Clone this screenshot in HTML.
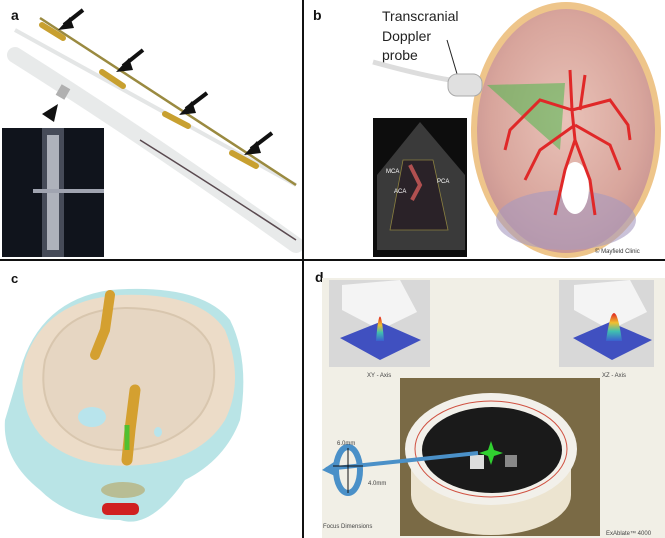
<!DOCTYPE html>
<html><head><meta charset="utf-8"><style>
html,body{margin:0;padding:0;background:#fff;}
svg{display:block;font-family:"Liberation Sans",sans-serif;}
</style></head><body>
<svg width="665" height="538" viewBox="0 0 665 538" xmlns="http://www.w3.org/2000/svg">
<defs>
<linearGradient id="gold" x1="0" y1="0" x2="1" y2="1"><stop offset="0" stop-color="#d9b040"/><stop offset="1" stop-color="#8a6a10"/></linearGradient>
<radialGradient id="skull" cx="0.5" cy="0.45" r="0.6"><stop offset="0" stop-color="#e9c2b8"/><stop offset="0.7" stop-color="#d8a59c"/><stop offset="1" stop-color="#c69290"/></radialGradient>
<radialGradient id="peak" cx="0.5" cy="0" r="1"><stop offset="0" stop-color="#e03020"/><stop offset="0.4" stop-color="#e8d030"/><stop offset="0.7" stop-color="#40c0a0"/><stop offset="1" stop-color="#3050c0"/></radialGradient>
<linearGradient id="pk" x1="0" y1="0" x2="0" y2="1"><stop offset="0" stop-color="#e02020"/><stop offset="0.35" stop-color="#f0c030"/><stop offset="0.65" stop-color="#40c0b0"/><stop offset="1" stop-color="#3a60d0"/></linearGradient>
</defs>
<!-- Panel a -->
<rect x="0" y="0" width="303" height="259" fill="#fff"/>
<path d="M15,30 L296,185" stroke="#e4e6e6" stroke-width="4"/>
<path d="M40,18 L296,185" stroke="#9a8a40" stroke-width="2.5"/>
<path d="M42,25 L63,38" stroke="#c8a030" stroke-width="6" stroke-linecap="round"/>
<path d="M102,72 L123,86" stroke="#c8a030" stroke-width="6" stroke-linecap="round"/>
<path d="M165,114 L188,126" stroke="#c8a030" stroke-width="6" stroke-linecap="round"/>
<path d="M232,153 L256,166" stroke="#c8a030" stroke-width="6" stroke-linecap="round"/>
<path d="M15,55 Q150,140 296,245" stroke="#e8eaea" stroke-width="16" stroke-linecap="round" fill="none"/>
<path d="M140,140 Q220,190 296,240" stroke="#5a4a50" stroke-width="1.5" fill="none"/>
<rect x="58" y="86" width="10" height="12" fill="#b0b0b0" transform="rotate(30 63 92)"/>
<polygon points="42,114 58,104 54,122" fill="#111"/>
<!-- arrows -->
<g stroke="#111" stroke-width="4" fill="#111">
<line x1="83" y1="10" x2="64" y2="25"/><polygon points="58,30 70,17 74,28" stroke="none"/>
<line x1="143" y1="50" x2="123" y2="66"/><polygon points="116,72 129,58 133,70" stroke="none"/>
<line x1="207" y1="93" x2="186" y2="109"/><polygon points="179,115 192,101 196,113" stroke="none"/>
<line x1="272" y1="133" x2="251" y2="149"/><polygon points="244,155 257,141 261,153" stroke="none"/>
</g>
<rect x="2" y="128" width="102" height="129" fill="#10141c"/>
<rect x="42" y="128" width="22" height="129" fill="#6a7080" opacity="0.6"/>
<rect x="47" y="135" width="12" height="115" fill="#c8ccd4" opacity="0.8"/>
<rect x="33" y="189" width="71" height="4" fill="#a0a4b0"/>
<text x="11" y="20" font-size="14" font-weight="bold" fill="#111">a</text>
<!-- dividers -->
<rect x="302" y="0" width="2" height="538" fill="#111"/>
<rect x="0" y="259" width="665" height="2" fill="#111"/>
<!-- Panel b -->
<text x="313" y="20" font-size="14" font-weight="bold" fill="#111">b</text>
<text font-size="14" fill="#222"><tspan x="382" y="21">Transcranial</tspan><tspan x="382" y="41">Doppler</tspan><tspan x="382" y="60">probe</tspan></text>
<line x1="447" y1="40" x2="460" y2="84" stroke="#222" stroke-width="1"/>
<ellipse cx="566" cy="130" rx="95" ry="128" fill="#eec58a"/>
<ellipse cx="566" cy="131" rx="89" ry="122" fill="url(#skull)"/>
<ellipse cx="566" cy="220" rx="70" ry="30" fill="#a79ac0" opacity="0.6"/>
<ellipse cx="575" cy="188" rx="14" ry="26" fill="#fff"/>
<polygon points="487,85 565,83 560,150" fill="#4cb84c" opacity="0.55"/>
<g stroke="#e02828" stroke-width="3" fill="none">
<path d="M570,70 L572,110 L575,140 L565,170 L555,215"/>
<path d="M575,140 L590,180 L595,215"/>
<path d="M572,110 L610,100 L628,125 L630,140"/>
<path d="M572,110 L540,100 L510,130 L505,150"/>
<path d="M575,125 L610,145 L620,170"/>
<path d="M575,125 L540,150 L525,180"/>
<path d="M585,75 L580,110"/>
</g>
<path d="M373,62 Q420,75 450,80" stroke="#ddd" stroke-width="5" fill="none"/>
<rect x="448" y="74" width="34" height="22" rx="9" fill="#e0e0e0" stroke="#aaa"/>
<rect x="373" y="118" width="94" height="139" fill="#0d0d0d"/>
<polygon points="420,122 465,175 465,250 377,250 377,175" fill="#3a3a3a"/>
<polygon points="403,160 433,160 448,230 390,230" fill="#2a2228" stroke="#8a8040" stroke-width="0.8"/>
<path d="M410,165 L420,185 L412,200" stroke="#b05050" stroke-width="4" fill="none"/>
<text x="386" y="173" font-size="6" fill="#fff">MCA</text>
<text x="394" y="193" font-size="6" fill="#fff">ACA</text>
<text x="437" y="183" font-size="6" fill="#fff">PCA</text>
<text x="595" y="253" font-size="6" fill="#333">© Mayfield Clinic</text>
<!-- Panel c -->
<text x="11" y="283" font-size="13" font-weight="bold" fill="#111">c</text>
<path d="M20,370 Q40,300 110,290 Q200,283 230,320 Q250,360 240,420 Q225,460 185,480 Q150,530 120,520 Q70,520 40,490 Q2,460 5,420 Z" fill="#a8dde0" opacity="0.8"/>
<path d="M25,360 Q45,300 120,295 Q200,292 225,330 Q245,380 225,420 Q200,460 140,465 Q80,470 45,440 Q15,410 25,360 Z" fill="#ecdcc8"/>
<path d="M45,360 Q60,310 125,308 Q190,308 210,345 Q222,385 200,415 Q175,445 130,450 Q85,452 60,425 Q38,400 45,360 Z" fill="#e6d6c2" stroke="#d8c6ae" stroke-width="2"/>
<ellipse cx="92" cy="417" rx="14" ry="10" fill="#b8e4ec"/>
<ellipse cx="158" cy="432" rx="4" ry="5" fill="#b8e4ec"/>
<path d="M110,295 L105,330 L95,355" stroke="#d4a030" stroke-width="10" fill="none" stroke-linecap="round"/>
<path d="M135,390 L130,430 L127,460" stroke="#d4a030" stroke-width="11" fill="none" stroke-linecap="round"/>
<path d="M127,425 L127,450" stroke="#50c030" stroke-width="5"/>
<ellipse cx="123" cy="490" rx="22" ry="8" fill="#b8ac70" opacity="0.7"/>
<rect x="102" y="503" width="37" height="12" rx="5" fill="#d02020"/>
<!-- Panel d -->
<text x="315" y="282" font-size="14" font-weight="bold" fill="#111">d</text>
<rect x="322" y="278" width="343" height="260" fill="#f1efe6"/>
<rect x="329" y="280" width="101" height="87" fill="#d8d8d8"/>
<polygon points="342,285 400,280 417,312 380,330 342,310" fill="#f4f4f4"/>
<polygon points="340,338 380,322 421,340 380,360" fill="#4050c0"/>
<path d="M376,341 Q380,292 384,341 Z" fill="url(#pk)"/>
<rect x="559" y="280" width="95" height="87" fill="#d8d8d8"/>
<polygon points="574,285 630,280 647,312 610,330 574,310" fill="#f4f4f4"/>
<polygon points="573,338 610,322 652,340 612,360" fill="#4050c0"/>
<path d="M606,341 Q614,285 622,341 Z" fill="url(#pk)"/>
<text x="367" y="377" font-size="6" fill="#444">XY - Axis</text>
<text x="602" y="377" font-size="6" fill="#444">XZ - Axis</text>
<rect x="400" y="378" width="200" height="158" fill="#6a5a3a"/>
<rect x="400" y="378" width="200" height="158" fill="#8a7a50" opacity="0.5"/>
<ellipse cx="491" cy="495" rx="80" ry="40" fill="#ece4d0"/>
<rect x="411" y="450" width="160" height="45" fill="#ece4d0"/>
<ellipse cx="491" cy="449" rx="86" ry="56" fill="#f2f0ea"/>
<ellipse cx="491" cy="449" rx="76" ry="48" fill="none" stroke="#d05040" stroke-width="1"/>
<ellipse cx="492" cy="450" rx="70" ry="43" fill="#1a1a1a"/>
<rect x="470" y="455" width="14" height="14" fill="#ddd"/>
<rect x="505" y="455" width="12" height="12" fill="#888"/>
<path d="M326,469 L478,453" stroke="#4a90c8" stroke-width="4"/>
<polygon points="322,470 334,462 335,476" fill="#4a90c8"/>
<path d="M491,441 L494,450 L503,453 L494,456 L491,465 L488,456 L479,453 L488,450 Z" fill="#30d030"/>
<ellipse cx="348" cy="470" rx="12" ry="23" fill="none" stroke="#4a90c8" stroke-width="6"/>
<line x1="348" y1="448" x2="348" y2="493" stroke="#111"/>
<line x1="333" y1="466" x2="363" y2="466" stroke="#111"/>
<text x="337" y="445" font-size="6" fill="#444">6.0mm</text>
<text x="368" y="485" font-size="6" fill="#444">4.0mm</text>
<text x="323" y="528" font-size="6" fill="#444">Focus Dimensions</text>
<text x="606" y="535" font-size="6" fill="#444">ExAblate™ 4000</text>
</svg>
</body></html>
